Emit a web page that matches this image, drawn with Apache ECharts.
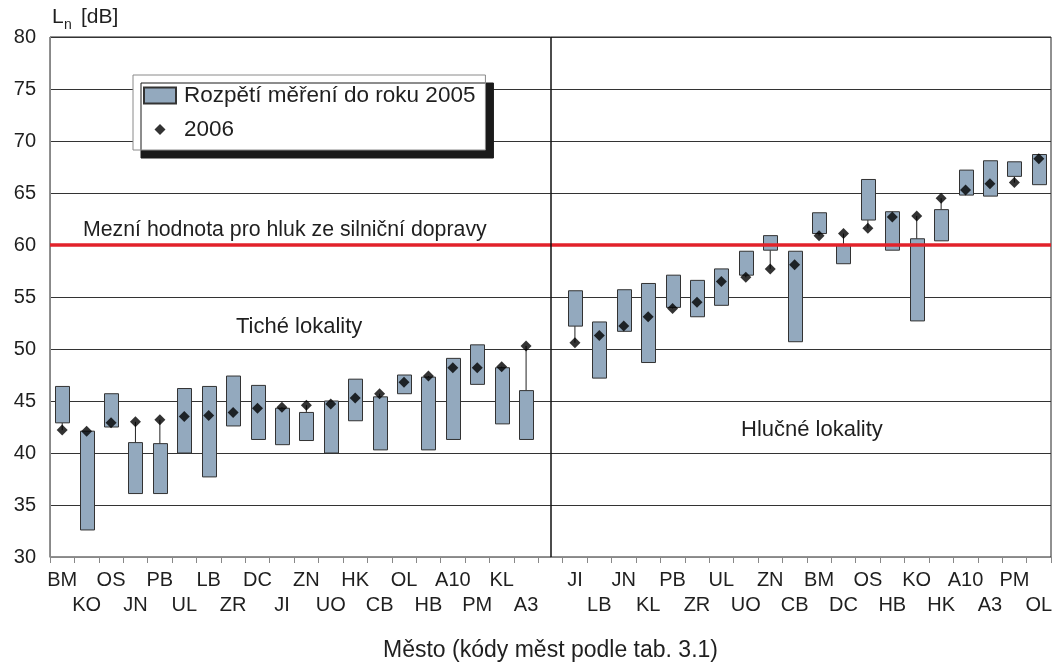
<!DOCTYPE html>
<html>
<head>
<meta charset="utf-8">
<script src="https://cdn.jsdelivr.net/npm/echarts@6/dist/echarts.min.js"></script>
<style>
  html, body { margin: 0; padding: 0; background: #fff; }
  #chart { width: 1062px; height: 667px; }
</style>
</head>
<body>
<div id="chart"></div>
<script>
// Quiet localities (left block)
const quietCodes = ['BM','KO','OS','JN','PB','UL','LB','ZR','DC','JI','ZN','UO','HK','CB','OL','HB','A10','PM','KL','A3'];
const quietLow   = [42.9, 32.6, 42.5, 36.1, 36.1, 40.0, 37.7, 42.6, 41.3, 40.8, 41.2, 40.0, 43.1, 40.3, 45.7, 40.3, 41.3, 46.6, 42.8, 41.3];
const quietHigh  = [46.4, 42.1, 45.7, 41.0, 40.9, 46.2, 46.4, 47.4, 46.5, 44.3, 43.9, 45.0, 47.1, 45.4, 47.5, 47.3, 49.1, 50.4, 48.2, 46.0];
const quiet2006  = [42.2, 42.1, 42.9, 43.0, 43.2, 43.5, 43.6, 43.9, 44.3, 44.4, 44.6, 44.7, 45.3, 45.7, 46.8, 47.4, 48.2, 48.2, 48.3, 50.3];

// Noisy localities (right block)
const noisyCodes = ['JI','LB','JN','KL','PB','ZR','UL','UO','ZN','CB','BM','DC','OS','HB','KO','HK','A10','A3','PM','OL'];
const noisyLow   = [52.2, 47.2, 51.7, 48.7, 54.0, 53.1, 54.2, 57.1, 59.5, 50.7, 61.1, 58.2, 62.4, 59.5, 52.7, 60.4, 64.8, 64.7, 66.6, 65.8];
const noisyHigh  = [55.6, 52.6, 55.7, 56.3, 57.1, 56.6, 57.7, 59.4, 60.9, 59.4, 63.1, 60.0, 66.3, 63.2, 60.6, 63.4, 67.2, 68.1, 68.0, 68.7];
const noisy2006  = [50.6, 51.3, 52.2, 53.1, 53.9, 54.5, 56.5, 56.9, 57.7, 58.1, 60.9, 61.1, 61.6, 62.7, 62.8, 64.5, 65.3, 65.9, 66.0, 68.3];

const limitValue = 60;          // road traffic noise limit
const yMin = 30, yMax = 80, yStep = 5;

const seriesRange = 'Rozpětí měření do roku 2005';
const series2006 = '2006';

// One empty slot separates the two blocks
const categories = quietCodes.concat([''], noisyCodes);
const gapIndex = quietCodes.length;

const rangeData = [];
const pointData = [];
quietCodes.forEach((c, i) => {
  rangeData.push([i, quietLow[i], quietHigh[i], quiet2006[i]]);
  pointData.push([i, quiet2006[i]]);
});
noisyCodes.forEach((c, i) => {
  const x = gapIndex + 1 + i;
  rangeData.push([x, noisyLow[i], noisyHigh[i], noisy2006[i]]);
  pointData.push([x, noisy2006[i]]);
});

const FONT = '"Liberation Sans", Arial, sans-serif';
const TEXT = '#1f1f1f';
const BOX_FILL = '#93a9be';
const BOX_EDGE = '#333';

const chart = echarts.init(document.getElementById('chart'), null, { renderer: 'canvas' });

chart.setOption({
  animation: false,
  textStyle: { fontFamily: FONT },
  grid: { left: 50, right: 11, top: 37, bottom: 109, show: true, borderColor: '#222', borderWidth: 1 },
  legend: {
    left: 133, top: 75, orient: 'vertical',
    padding: [9, 10, 9, 10],
    itemGap: 11, itemWidth: 32, itemHeight: 16,
    backgroundColor: '#fff', borderColor: '#8a8a8a', borderWidth: 1,
    shadowColor: '#1a1a1a', shadowBlur: 0, shadowOffsetX: 8, shadowOffsetY: 8,
    textStyle: { fontSize: 22.5, lineHeight: 22, color: TEXT, fontFamily: FONT, padding: [0, 0, 0, 3] },
    data: [
      { name: seriesRange, icon: 'rect' },
      { name: series2006, icon: 'path://M0,0M16,2.5L21.5,8L16,13.5L10.5,8ZM32,16' }
    ]
  },
  xAxis: {
    type: 'category',
    data: categories,
    boundaryGap: true,
    name: 'Město (kódy měst podle tab. 3.1)',
    nameLocation: 'middle',
    nameGap: 82,
    nameTextStyle: { fontSize: 23, color: TEXT, fontFamily: FONT },
    axisLine: { lineStyle: { color: '#888', width: 1 } },
    axisTick: { show: true, interval: 0, length: 6, lineStyle: { color: '#888' } },
    axisLabel: {
      interval: 0, margin: 11, fontSize: 20, color: TEXT, lineHeight: 25,
      formatter: function (value, index) {
        if (!value) return '';
        const k = index < gapIndex ? index : index - gapIndex - 1;
        return k % 2 === 0 ? value : '\n' + value;
      }
    },
    splitLine: { show: false }
  },
  yAxis: {
    type: 'value',
    min: yMin, max: yMax, interval: yStep,
    axisLine: { show: true, lineStyle: { color: '#888' } },
    axisTick: { show: false },
    axisLabel: { fontSize: 20, color: TEXT, margin: 14 },
    splitLine: { lineStyle: { color: '#333', width: 1 } }
  },
  series: [
    {
      name: seriesRange,
      type: 'custom',
      itemStyle: { color: BOX_FILL, borderColor: BOX_EDGE, borderWidth: 1 },
      encode: { x: 0, y: [1, 2, 3] },
      data: rangeData,
      renderItem: function (params, api) {
        const x = api.value(0);
        const lo = api.value(1), hi = api.value(2), pt = api.value(3);
        const pLo = api.coord([x, lo]);
        const pHi = api.coord([x, hi]);
        const pPt = api.coord([x, pt]);
        const w = Math.round(api.size([1, 0])[0] * 0.58);
        const children = [];
        // connector from the box to a 2006 value lying outside the range
        if (pt > hi) {
          children.push({ type: 'line', shape: { x1: pHi[0], y1: pHi[1], x2: pPt[0], y2: pPt[1] },
            style: { stroke: '#222', lineWidth: 1 } });
        } else if (pt < lo) {
          children.push({ type: 'line', shape: { x1: pLo[0], y1: pLo[1], x2: pPt[0], y2: pPt[1] },
            style: { stroke: '#222', lineWidth: 1 } });
        }
        children.push({
          type: 'rect',
          shape: { x: Math.round(pLo[0] - w / 2) + 0.5, y: pHi[1], width: w, height: pLo[1] - pHi[1] },
          style: { fill: BOX_FILL, stroke: BOX_EDGE, lineWidth: 1 }
        });
        return { type: 'group', children: children };
      },
      z: 3
    },
    {
      name: series2006,
      type: 'scatter',
      symbol: 'diamond',
      symbolSize: 11,
      itemStyle: { color: '#000' },
      data: pointData,
      z: 5,
      markLine: {
        silent: true,
        symbol: 'none',
        animation: false,
        label: { show: false },
        data: [
          { yAxis: limitValue, lineStyle: { color: '#e2222a', width: 3.5, type: 'solid' } },
          { xAxis: gapIndex, lineStyle: { color: '#111', width: 1.5, type: 'solid' } }
        ]
      }
    }
  ],
  graphic: [
    { type: 'text', left: 52, top: 7, style: { text: 'L', fontSize: 21, fill: TEXT, fontFamily: FONT } },
    { type: 'text', left: 64, top: 18, style: { text: 'n', fontSize: 14, fill: TEXT, fontFamily: FONT } },
    { type: 'text', left: 81, top: 7, style: { text: '[dB]', fontSize: 21, fill: TEXT, fontFamily: FONT } },
    { type: 'text', left: 83, top: 220, style: { text: 'Mezní hodnota pro hluk ze silniční dopravy', fontSize: 21.3, fill: TEXT, fontFamily: FONT } },
    { type: 'text', left: 236, top: 316, style: { text: 'Tiché lokality', fontSize: 22, fill: TEXT, fontFamily: FONT } },
    { type: 'text', left: 741, top: 419, style: { text: 'Hlučné lokality', fontSize: 22, fill: TEXT, fontFamily: FONT } }
  ]
});
</script>
</body>
</html>
